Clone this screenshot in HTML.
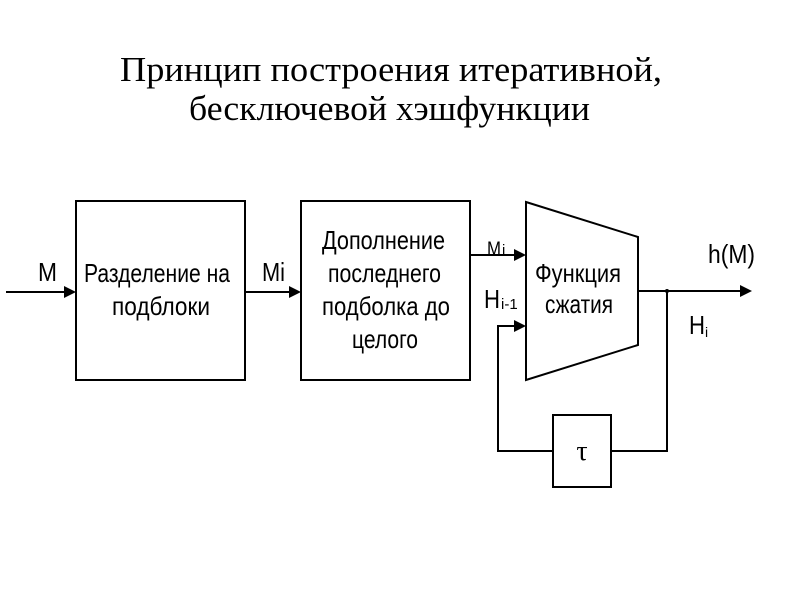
<!DOCTYPE html>
<html><head><meta charset="utf-8"><style>body{margin:0;background:#fff}</style></head>
<body>
<svg width="800" height="600" xmlns="http://www.w3.org/2000/svg">
<rect width="800" height="600" fill="#fff"/>
<g font-family="Liberation Serif, serif" font-size="35" fill="#000">
<text x="120" y="81" textLength="542" lengthAdjust="spacingAndGlyphs">Принцип построения итеративной,</text>
<text x="189" y="120" textLength="401" lengthAdjust="spacingAndGlyphs">бесключевой хэшфункции</text>
</g>
<g stroke="#000" stroke-width="2" fill="none">
<rect x="76" y="201" width="169" height="179"/>
<rect x="301" y="201" width="169" height="179"/>
<polygon points="526,202 638,237 638,345 526,380"/>
<rect x="553" y="415" width="58" height="72"/>
<line x1="6" y1="292" x2="66" y2="292"/>
<line x1="245" y1="292" x2="291" y2="292"/>
<line x1="470" y1="255" x2="516" y2="255"/>
<line x1="638" y1="291" x2="740" y2="291"/>
<polyline points="667,291 667,451 611,451"/>
<polyline points="553,451 498,451 498,326 516,326"/>
</g>
<g fill="#000">
<polygon points="76,292 64,286 64,298"/>
<polygon points="301,292 289,286 289,298"/>
<polygon points="526,255 514,249 514,261"/>
<polygon points="526,326 514,320 514,332"/>
<polygon points="752,291 740,285 740,297"/>
<circle cx="667" cy="291" r="2"/>
</g>
<g font-family="Liberation Sans, sans-serif" font-size="26" fill="#000">
<text x="84" y="282" textLength="146" lengthAdjust="spacingAndGlyphs">Разделение на</text>
<text x="112" y="315" textLength="98" lengthAdjust="spacingAndGlyphs">подблоки</text>
<text x="322" y="249" textLength="123" lengthAdjust="spacingAndGlyphs">Дополнение</text>
<text x="328" y="282" textLength="113" lengthAdjust="spacingAndGlyphs">последнего</text>
<text x="322" y="315" textLength="128" lengthAdjust="spacingAndGlyphs">подболка до</text>
<text x="352" y="348" textLength="66" lengthAdjust="spacingAndGlyphs">целого</text>
<text x="535" y="282" textLength="86" lengthAdjust="spacingAndGlyphs">Функция</text>
<text x="545" y="313" textLength="68" lengthAdjust="spacingAndGlyphs">сжатия</text>
<text x="38" y="281" textLength="19" lengthAdjust="spacingAndGlyphs">M</text>
<text x="262" y="281" textLength="23" lengthAdjust="spacingAndGlyphs">Mi</text>
<text x="708" y="263" textLength="47" lengthAdjust="spacingAndGlyphs">h(M)</text>
<text x="689" y="334" textLength="16" lengthAdjust="spacingAndGlyphs">H</text>
<text x="705" y="337" font-size="14">i</text>
<text x="484" y="308" textLength="16" lengthAdjust="spacingAndGlyphs">H</text>
<text x="501" y="309" font-size="15">i-1</text>
<text x="487" y="255" font-size="19" textLength="14" lengthAdjust="spacingAndGlyphs">M</text>
<text x="502" y="255" font-size="15">i</text>
</g>
<text x="582" y="460" font-family="Liberation Serif, serif" font-size="28" text-anchor="middle">τ</text>
</svg>
</body></html>
